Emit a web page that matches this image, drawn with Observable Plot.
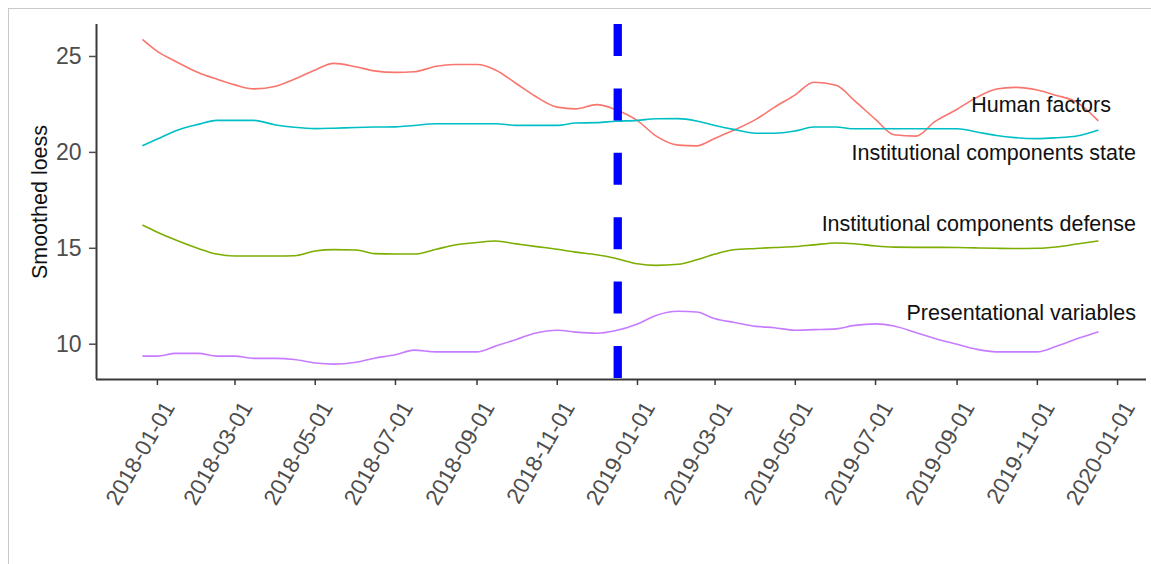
<!DOCTYPE html>
<html>
<head>
<meta charset="utf-8">
<script src="https://cdn.jsdelivr.net/npm/d3@7"></script>
<script src="https://cdn.jsdelivr.net/npm/@observablehq/plot@0.6"></script>
<style>
  html, body { margin: 0; padding: 0; background: #fff; }
  #wrap { position: relative; width: 1151px; height: 564px; overflow: hidden; }
  #frame { position: absolute; left: 8px; top: 8px; right: -4px; bottom: -4px;
           border-left: 1.5px solid #c9c9c9; border-top: 1.5px solid #c9c9c9; pointer-events: none; }
</style>
</head>
<body>
<div id="wrap"><div id="chart"></div><div id="frame"></div></div>
<script>
// ---- data ----
const dates = [
  "2017-12-21","2018-01-01","2018-01-15","2018-02-01","2018-02-15","2018-03-01","2018-03-15",
  "2018-04-01","2018-04-15","2018-05-01","2018-05-15","2018-06-01","2018-06-15","2018-07-01",
  "2018-07-15","2018-08-01","2018-08-15","2018-09-01","2018-09-15","2018-10-01","2018-10-15",
  "2018-11-01","2018-11-15","2018-12-01","2018-12-15","2019-01-01","2019-01-15","2019-02-01",
  "2019-02-15","2019-03-01","2019-03-15","2019-04-01","2019-04-15","2019-05-01","2019-05-15",
  "2019-06-01","2019-06-15","2019-07-01","2019-07-15","2019-08-01","2019-08-15","2019-09-01",
  "2019-09-15","2019-10-01","2019-10-15","2019-11-01","2019-11-15","2019-12-01","2019-12-17"
];

const humanFactors = [
  25.87,25.27,24.74,24.16,23.82,23.52,23.31,23.45,23.81,24.30,24.64,24.46,24.25,24.17,
  24.20,24.49,24.58,24.58,24.30,23.58,22.94,22.36,22.27,22.49,22.24,21.66,20.86,20.38,
  20.34,20.74,21.15,21.72,22.35,23.00,23.66,23.50,22.70,21.72,20.92,20.85,21.60,22.25,
  22.83,23.30,23.39,23.25,22.98,22.62,21.67
];

const instDefense = [
  16.20,15.84,15.43,14.99,14.70,14.60,14.60,14.60,14.61,14.86,14.93,14.91,14.72,14.70,
  14.70,14.95,15.17,15.30,15.38,15.23,15.10,14.95,14.80,14.66,14.48,14.19,14.11,14.17,
  14.40,14.70,14.92,14.99,15.04,15.09,15.18,15.28,15.24,15.12,15.06,15.05,15.05,15.04,
  15.02,15.00,14.99,15.00,15.07,15.22,15.38
];

const instState = [
  20.36,20.70,21.13,21.46,21.67,21.67,21.67,21.43,21.31,21.24,21.26,21.30,21.32,21.33,
  21.40,21.49,21.49,21.49,21.49,21.41,21.41,21.41,21.53,21.55,21.62,21.67,21.75,21.76,
  21.64,21.40,21.20,21.00,21.00,21.12,21.32,21.32,21.23,21.23,21.23,21.23,21.23,21.23,
  21.08,20.88,20.77,20.72,20.76,20.85,21.15
];

const presentational = [
  9.38,9.38,9.52,9.52,9.38,9.38,9.26,9.26,9.20,9.02,8.96,9.06,9.27,9.45,
  9.69,9.60,9.60,9.60,9.90,10.25,10.57,10.73,10.63,10.57,10.70,11.05,11.50,11.72,
  11.68,11.33,11.14,10.93,10.86,10.73,10.76,10.80,10.98,11.06,10.95,10.60,10.30,10.00,
  9.75,9.60,9.60,9.60,9.88,10.28,10.64
];

const seriesNames = ["Human factors", "Institutional components defense",
                     "Institutional components state", "Presentational variables"];
const seriesValues = [humanFactors, instDefense, instState, presentational];
const seriesColors = ["#F8766D", "#7CAE00", "#00BFC4", "#C77CFF"];

// direct labels (data-space anchor: right end of each label)
const labelDates  = ["2019-12-27", "2020-01-15", "2020-01-15", "2020-01-15"];
const labelValues = [22.49, 16.24, 19.97, 11.63];

const cutoffDate = "2018-12-17";
const xTickLabels = ["2018-01-01","2018-03-01","2018-05-01","2018-07-01","2018-09-01","2018-11-01",
                     "2019-01-01","2019-03-01","2019-05-01","2019-07-01","2019-09-01","2019-11-01","2020-01-01"];
const yTicks = [10, 15, 20, 25];
const yTitle = "Smoothed loess";

// ---- build tables ----
const parse = d3.utcParse("%Y-%m-%d");
const rows = [];
seriesNames.forEach((name, i) => seriesValues[i].forEach((v, j) => rows.push({series: name, date: parse(dates[j]), value: v})));
const labelRows = seriesNames.map((name, i) => ({series: name, date: parse(labelDates[i]), value: labelValues[i]}));
const xTicks = xTickLabels.map(parse);

const xDomain = [new Date("2017-11-15T17:00:00Z"), new Date("2020-01-23T00:00:00Z")];
const yDomain = [8.16, 26.667];

const chart = Plot.plot({
  width: 1151, height: 564,
  marginLeft: 96, marginRight: 5, marginTop: 24, marginBottom: 185,
  style: {fontFamily: "'Liberation Sans', Arial, sans-serif", background: "transparent", color: "#000"},
  x: {type: "utc", domain: xDomain},
  y: {domain: yDomain},
  color: {domain: seriesNames, range: seriesColors},
  marks: [
    Plot.line(rows, {x: "date", y: "value", z: "series", stroke: "series", strokeWidth: 1.6, curve: "monotone-x"}),
    Plot.ruleX([parse(cutoffDate)], {stroke: "#0000FF", strokeWidth: 8.3, strokeDasharray: "32,32.4"}),
    Plot.text(labelRows, {x: "date", y: "value", text: "series", textAnchor: "end", lineAnchor: "middle", fontSize: 21.5, fill: "#111"}),
    // axis lines
    Plot.ruleY([yDomain[0]], {stroke: "#3a3a3a", strokeWidth: 2}),
    Plot.ruleX([xDomain[0]], {stroke: "#3a3a3a", strokeWidth: 2}),
    // y axis
    Plot.axisY({ticks: yTicks, tickSize: 7, tickPadding: 8, fontSize: 23, label: null, color: "#4d4d4d", strokeWidth: 1.5}),
    // x axis ticks + rotated labels
    Plot.axisX({ticks: xTicks, tickSize: 6, tickFormat: () => "", label: null, color: "#3a3a3a", strokeWidth: 1.5}),
    Plot.text(xTicks, {x: d => d, frameAnchor: "bottom", text: d3.utcFormat("%Y-%m-%d"), rotate: -60,
      textAnchor: "end", lineAnchor: "middle", dx: 12, dy: 24, fontSize: 22.5, fill: "#4d4d4d"}),
    // y axis title
    Plot.text([yTitle], {frameAnchor: "left", text: d => d, rotate: -90, dx: -56.5, fontSize: 21.5, fill: "#111",
      textAnchor: "middle", lineAnchor: "middle"})
  ]
});
document.getElementById("chart").appendChild(chart);
</script>
</body>
</html>
